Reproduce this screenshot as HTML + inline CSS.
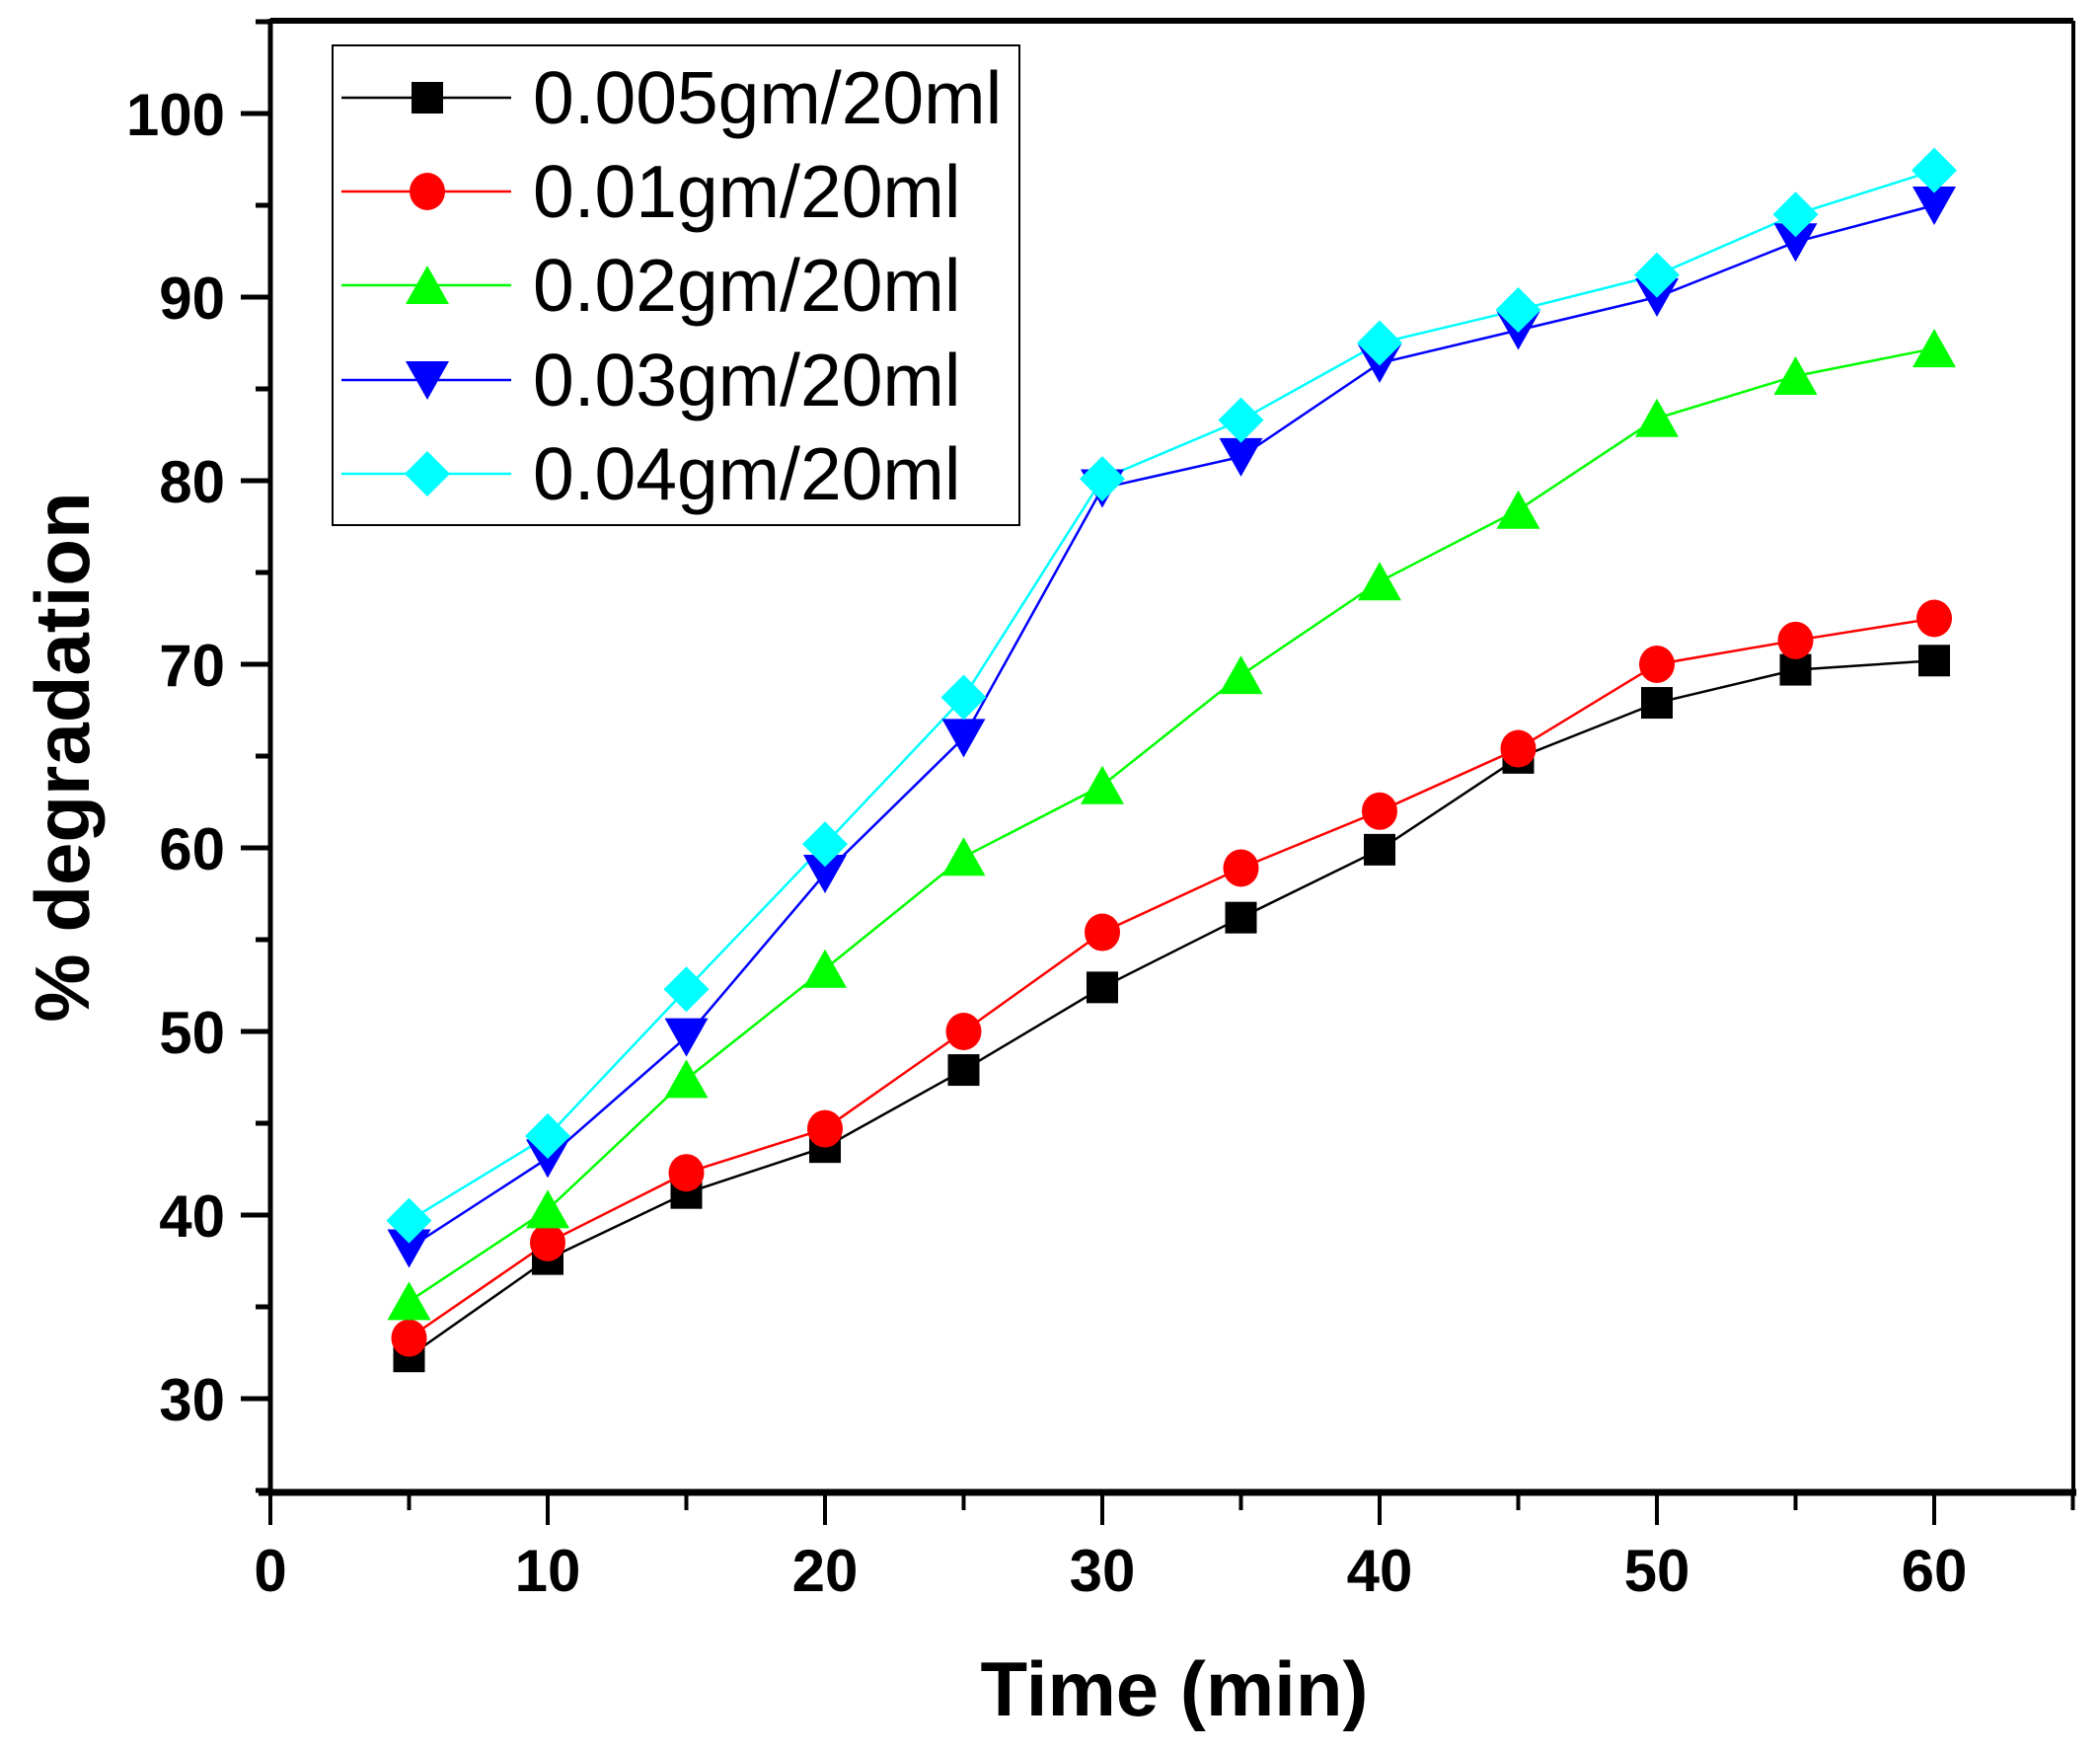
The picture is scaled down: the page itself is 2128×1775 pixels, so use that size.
<!DOCTYPE html>
<html><head><meta charset="utf-8"><style>
html,body{margin:0;padding:0;background:#fff;}
svg{display:block;}
text{font-family:"Liberation Sans",Arial,sans-serif;}
</style></head><body>
<svg id="s" width="2128" height="1775" viewBox="0 0 2128 1775" xmlns="http://www.w3.org/2000/svg">
<rect width="2128" height="1775" fill="#fff"/>
<g id="plot"></g>
<!-- axes frame -->
<line x1="274" y1="21" x2="2101" y2="21" stroke="#000" stroke-width="6"/>
<line x1="2101" y1="21" x2="2101" y2="1512" stroke="#000" stroke-width="4"/>
<line x1="274" y1="19" x2="274" y2="1512" stroke="#000" stroke-width="5"/>
<line x1="262" y1="1512" x2="2104" y2="1512" stroke="#000" stroke-width="7"/>
<g id="ticks"></g>
<!-- legend -->
<rect x="337" y="46" width="696" height="486" fill="#fff" stroke="#000" stroke-width="2"/>
<g id="leg"></g>
<text x="1190" y="1738" font-size="78" font-weight="bold" text-anchor="middle">Time (min)</text>
<text transform="translate(90,767) rotate(-90)" font-size="78" font-weight="bold" text-anchor="middle">% degradation</text>
</svg>
<script>
const NS="http://www.w3.org/2000/svg";
const X=v=>274+v*28.1, Y=v=>115+(100-v)*18.6;
function el(p,t,a){const e=document.createElementNS(NS,t);for(const k in a)e.setAttribute(k,a[k]);p.appendChild(e);return e;}
const tk=document.getElementById('ticks');
for(let v=25;v<=105;v+=5){const y=Y(v);const maj=v%10==0;el(tk,'line',{x1:maj?244:259,y1:y,x2:274,y2:y,stroke:'#000','stroke-width':5});
 if(maj){const t=el(tk,'text',{x:228,y:y+22,'font-size':60,'font-weight':'bold','text-anchor':'end'});t.textContent=v;}}
for(let v=0;v<=65;v+=5){const x=X(v);const maj=v%10==0;el(tk,'line',{x1:x,y1:1512,x2:x,y2:maj?1545:1530,stroke:'#000','stroke-width':4});
 if(maj&&v<=60){const t=el(tk,'text',{x:x,y:1612,'font-size':60,'font-weight':'bold','text-anchor':'middle'});t.textContent=v;}}
const xs=[5,10,15,20,25,30,35,40,45,50,55,60];
const S=[
 ['#000','sq',[32.3,37.6,41.2,43.7,47.9,52.4,56.2,59.9,64.9,67.9,69.7,70.2],'0.005gm/20ml'],
 ['#f00','ci',[33.3,38.5,42.3,44.7,50.0,55.4,58.9,62.0,65.4,70.0,71.3,72.5],'0.01gm/20ml'],
 ['#0f0','up',[35.3,40.3,47.4,53.4,59.5,63.4,69.4,74.5,78.4,83.4,85.7,87.2],'0.02gm/20ml'],
 ['#00f','dn',[38.2,43.1,49.7,58.6,66.0,79.6,81.3,86.4,88.2,90.0,93.0,95.0],'0.03gm/20ml'],
 ['#0ff','di',[39.7,44.3,52.3,60.2,68.2,80.1,83.3,87.5,89.3,91.2,94.5,96.9],'0.04gm/20ml']];
function mk(p,type,x,y,c){
 if(type=='sq')el(p,'rect',{x:x-16,y:y-16,width:32,height:32,fill:c});
 else if(type=='ci')el(p,'ellipse',{cx:x,cy:y,rx:18,ry:19,fill:c});
 else if(type=='up')el(p,'polygon',{points:`${x},${y-20} ${x+22},${y+19} ${x-22},${y+19}`,fill:c});
 else if(type=='dn')el(p,'polygon',{points:`${x},${y+20} ${x+22},${y-19} ${x-22},${y-19}`,fill:c});
 else el(p,'polygon',{points:`${x},${y-23} ${x+23},${y} ${x},${y+23} ${x-23},${y}`,fill:c});}
const pl=document.getElementById('plot');
S.forEach(s=>{el(pl,'polyline',{points:xs.map((x,i)=>X(x)+','+Y(s[2][i])).join(' '),fill:'none',stroke:s[0],'stroke-width':2.5});});
S.forEach(s=>{xs.forEach((x,i)=>mk(pl,s[1],X(x),Y(s[2][i]),s[0]));});
const lg=document.getElementById('leg');
const ly=[99,194,289,385,480];
S.forEach((s,i)=>{el(lg,'line',{x1:346,y1:ly[i],x2:518,y2:ly[i],stroke:s[0],'stroke-width':2.5});mk(lg,s[1],433,ly[i],s[0]);
 const t=el(lg,'text',{x:540,y:ly[i]+26,'font-size':75});t.textContent=s[3];});
</script>
</body></html>
